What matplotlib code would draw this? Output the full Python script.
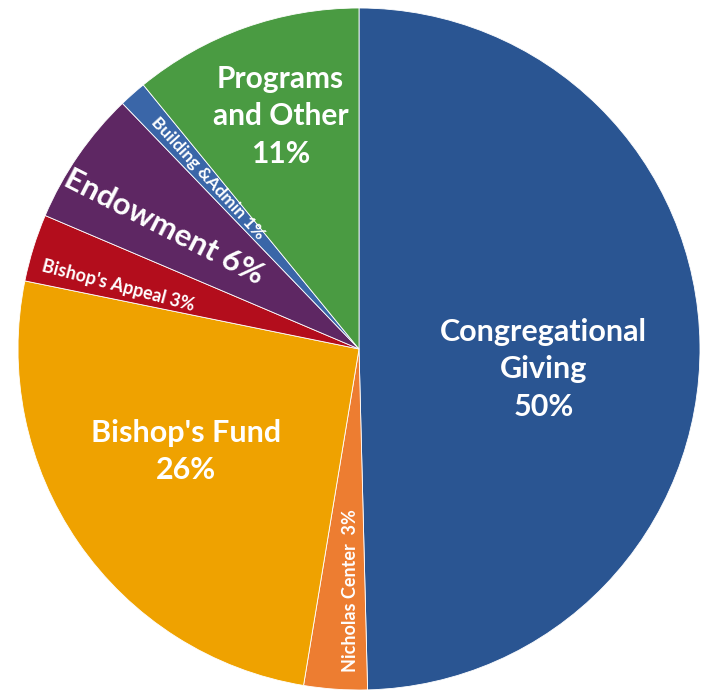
import numpy as np
import matplotlib
matplotlib.use("Agg")
from matplotlib import pyplot as plt

# income sources, percent of total
sources = ["Congregational Giving", "Nicholas Center", "Bishop's Fund", "Bishop's Appeal",
           "Endowment", "Building &Admin", "Programs and Other"]
shares = [49.6, 3.0, 25.6, 3.2, 6.4, 1.3, 10.9]
colors = ["#2a5592", "#ed7d31", "#efa200", "#b30d1c", "#5e2763", "#3a66a8", "#4a9b42"]

# label text template, radial position, angle offset, rotation, size
label_fmt = ["Congregational\nGiving\n{p}%", "Nicholas Center  {p}%", "Bishop's Fund\n{p}%",
             "Bishop's Appeal {p}%", "Endowment {p}%", "Building &Admin {p}%",
             "Programs\nand Other\n{p}%"]
label_r = [0.545, 0.71, 0.59, 0.73, 0.675, 0.67, 0.72]
label_dang = [7, -2, 4, -2.5, -2.5, 0, 1]
label_radial = [False, True, False, True, True, True, False]
label_drot = [0, 2, 0, 0, 5, 1, 0]
label_size = [22, 13, 22, 13, 22.5, 12.5, 21.5]

plt.rcParams["font.family"] = ["Lato", "DejaVu Sans"]

fig = plt.figure(figsize=(7.07, 6.90), dpi=100)
ax = fig.add_axes([0, 0, 1, 1])
cx, cy, R = 359, 341, 341
ax.pie(shares, colors=colors, startangle=90, counterclock=False, center=(cx, cy), radius=R,
       wedgeprops=dict(edgecolor="white", linewidth=0.6))
ax.set_xlim(0, 707)
ax.set_ylim(0, 690)
ax.set_aspect("equal")
ax.axis("off")

cum = np.cumsum([0] + shares)
for i, s in enumerate(shares):
    mid_cw = (cum[i] + cum[i + 1]) / 2 / 100 * 360 + label_dang[i]
    ang = np.deg2rad(90 - mid_cw)
    x = cx + label_r[i] * R * np.cos(ang)
    y = cy + label_r[i] * R * np.sin(ang)
    rot = 0
    if label_radial[i]:
        rot = np.rad2deg(ang)
        if np.cos(ang) < 0:
            rot += 180
        rot += label_drot[i]
    ax.text(x, y, label_fmt[i].format(p=int(round(s))), ha="center", va="center",
            rotation=rot, rotation_mode="anchor", color="white", fontsize=label_size[i],
            fontweight="bold", linespacing=1.4)

fig.savefig("out.png", dpi=100)
